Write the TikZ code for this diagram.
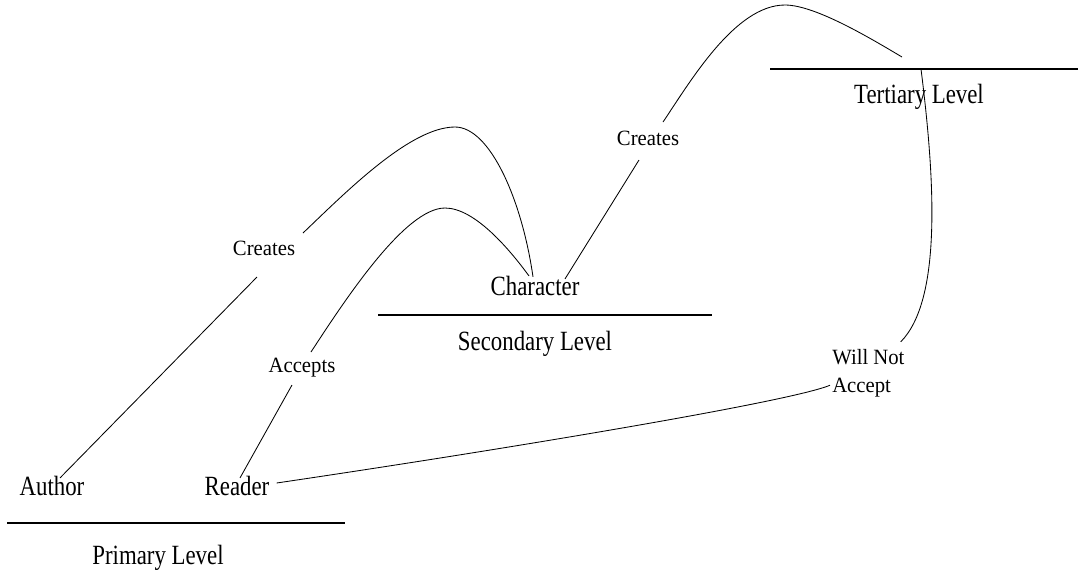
\documentclass[tikz,border=0pt]{standalone}
\usepackage{fontspec}
\setmainfont{Liberation Serif}
\newfontfamily\levelfont[FakeStretch=0.82]{Liberation Serif}
\newfontfamily\relfont[FakeStretch=0.95]{Liberation Serif}

\begin{document}
\begin{tikzpicture}[
    x=0.025cm, y=-0.025cm,
    level/.style={font=\levelfont\fontsize{19.8}{22}\selectfont, inner sep=0pt},
    rel/.style={font=\relfont\fontsize{15.5}{20}\selectfont, inner sep=0pt, align=left},
    rule/.style={line width=1.1pt},
    link/.style={line width=0.6pt},
]
\useasboundingbox[fill=white] (0,0) rectangle (1078,575);

% Primary level
\node[level] (author) at (52,486) {Author};
\node[level] (reader) at (237,486) {Reader};
\coordinate (pl) at (7,523);
\coordinate (pr) at (345,523);
\draw[rule] (pl) -- (pr);
\node[level] (primary) at (158,558) {Primary Level};

% Secondary level
\node[level] (character) at (535,286) {Character};
\coordinate (sl) at (378,315);
\coordinate (sr) at (712,315);
\draw[rule] (sl) -- (sr);
\node[level] (secondary) at (535,344) {Secondary Level};

% Tertiary level
\coordinate (tl) at (770,69);
\coordinate (tr) at (1078,69);
\draw[rule] (tl) -- (tr);
\node[level] (tertiary) at (919,97) {Tertiary Level};

% Relation labels
\node[rel] (crA) at (264,248) {Creates};
\node[rel] (acc) at (302,368) {Accepts};
\node[rel] (crB) at (648,138) {Creates};
\node[rel, anchor=west] (willnot) at (832,373) {Will Not\\Accept};

% Gaps round the labels
\coordinate (crA-in) at ([shift={(-7,29)}]crA);
\coordinate (crA-out) at ([shift={(39,-15)}]crA);
\coordinate (acc-in) at ([shift={(-10,17)}]acc);
\coordinate (acc-out) at ([shift={(9,-16)}]acc);
\coordinate (crB-in) at ([shift={(-9,22)}]crB);
\coordinate (crB-out) at ([shift={(15,-16)}]crB);
\coordinate (tert-top) at (902,57);
\coordinate (tert-out) at (921,69);

% Author creates the character
\draw[link] ([shift={(8,2)}]author.north) -- (crA-in);
\coordinate (pkA) at (455,127);
\draw[link] (crA-out) .. controls (345,193) and (410,127) .. (pkA)
    .. controls (490,127) and (522,200) .. ([shift={(-2,1)}]character.north);

% Reader accepts the character
\draw[link] ([shift={(3,2)}]reader.north) -- (acc-in);
\coordinate (pkB) at (445,208);
\draw[link] (acc-out) .. controls (345,300) and (405,208) .. (pkB)
    .. controls (475,208) and (510,250) .. ([shift={(-6,0)}]character.north);

% Character creates the tertiary level
\draw[link] ([shift={(30,3)}]character.north) -- (crB-in);
\coordinate (pkC) at (785,5);
\draw[link] (crB-out) .. controls (690,82) and (735,5) .. (pkC)
    .. controls (815,5) and (870,38) .. (tert-top);

% Reader will not accept
\draw[link] (tert-out) .. controls (935,180) and (942,300) .. ([shift={(-4,-7)}]willnot.north east);
\draw[link] ([shift={(-2,-12)}]willnot.south west) .. controls (790,402) and (500,450) .. ([shift={(7,-3)}]reader.east);
\end{tikzpicture}
\end{document}
